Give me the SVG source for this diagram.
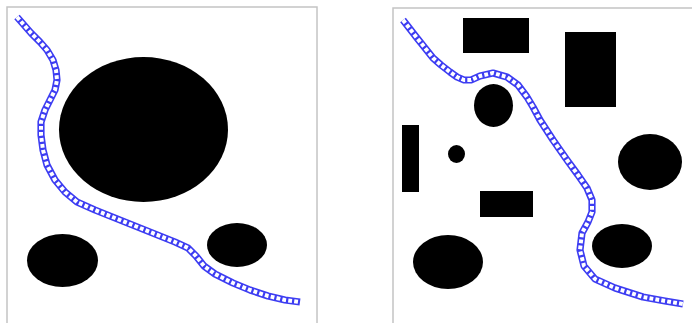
<svg xmlns="http://www.w3.org/2000/svg" width="692" height="323" viewBox="0 0 692 323">
<style>
.frame{fill:#fff;stroke:#c4c4c4;stroke-width:1.5}
.obs{fill:#000}
.pathA{fill:none;stroke:#3d3df2;stroke-width:7.2;stroke-linejoin:round}
.pathB{fill:none;stroke:#fff;stroke-width:4;stroke-dasharray:3.8 2.2;stroke-linejoin:round}
</style>
<rect width="692" height="323" fill="#fff"/>
<g id="left-panel">
<rect class="frame" x="7" y="7" width="310" height="322"/>
<ellipse class="obs" cx="143.5" cy="129.5" rx="84.5" ry="72.5"/>
<ellipse class="obs" cx="62.5" cy="260.5" rx="35.5" ry="26.5"/>
<ellipse class="obs" cx="237" cy="245" rx="30" ry="22"/>
</g>
<g id="right-panel">
<rect class="frame" x="393" y="8" width="310" height="322"/>
<rect class="obs" x="463" y="18" width="66" height="35"/>
<rect class="obs" x="565" y="32" width="51" height="75"/>
<ellipse class="obs" cx="493.5" cy="105.5" rx="19.5" ry="21.5"/>
<rect class="obs" x="402" y="125" width="17" height="67"/>
<ellipse class="obs" cx="456.5" cy="154" rx="8.5" ry="9"/>
<rect class="obs" x="480" y="191" width="53" height="26"/>
<ellipse class="obs" cx="650" cy="162" rx="32" ry="28"/>
<ellipse class="obs" cx="622" cy="246" rx="30" ry="22"/>
<ellipse class="obs" cx="448" cy="262" rx="35" ry="27"/>
</g>
<g id="connectors">
<path class="pathA" d="M17,17 L24,25 L31,33 L40,42 L47,50 L53,60 L56,70 L57,80 L55,90 L50,100 L45,110 L41,122 L41,135 L43,150 L47,165 L55,180 L65,192 L77,202 L95,210 L115,218 L135,226 L155,234 L175,242 L188,248 L196,256 L204,266 L215,274 L233,283 L250,290 L268,296 L285,300 L300,302"/>
<path class="pathB" d="M17,17 L24,25 L31,33 L40,42 L47,50 L53,60 L56,70 L57,80 L55,90 L50,100 L45,110 L41,122 L41,135 L43,150 L47,165 L55,180 L65,192 L77,202 L95,210 L115,218 L135,226 L155,234 L175,242 L188,248 L196,256 L204,266 L215,274 L233,283 L250,290 L268,296 L285,300 L300,302"/>
<path class="pathA" d="M403,20 L410,29 L417,38 L425,48 L433,58 L441,65 L450,72 L457,77 L464,80 L471,80 L480,76 L493,73 L507,77 L518,85 L527,97 L533,107 L540,120 L553,140 L567,160 L578,175 L587,188 L592,200 L592,212 L588,222 L582,233 L580,250 L584,266 L595,279 L615,288 L643,297 L665,301 L683,304"/>
<path class="pathB" d="M403,20 L410,29 L417,38 L425,48 L433,58 L441,65 L450,72 L457,77 L464,80 L471,80 L480,76 L493,73 L507,77 L518,85 L527,97 L533,107 L540,120 L553,140 L567,160 L578,175 L587,188 L592,200 L592,212 L588,222 L582,233 L580,250 L584,266 L595,279 L615,288 L643,297 L665,301 L683,304"/>
</g>
</svg>
